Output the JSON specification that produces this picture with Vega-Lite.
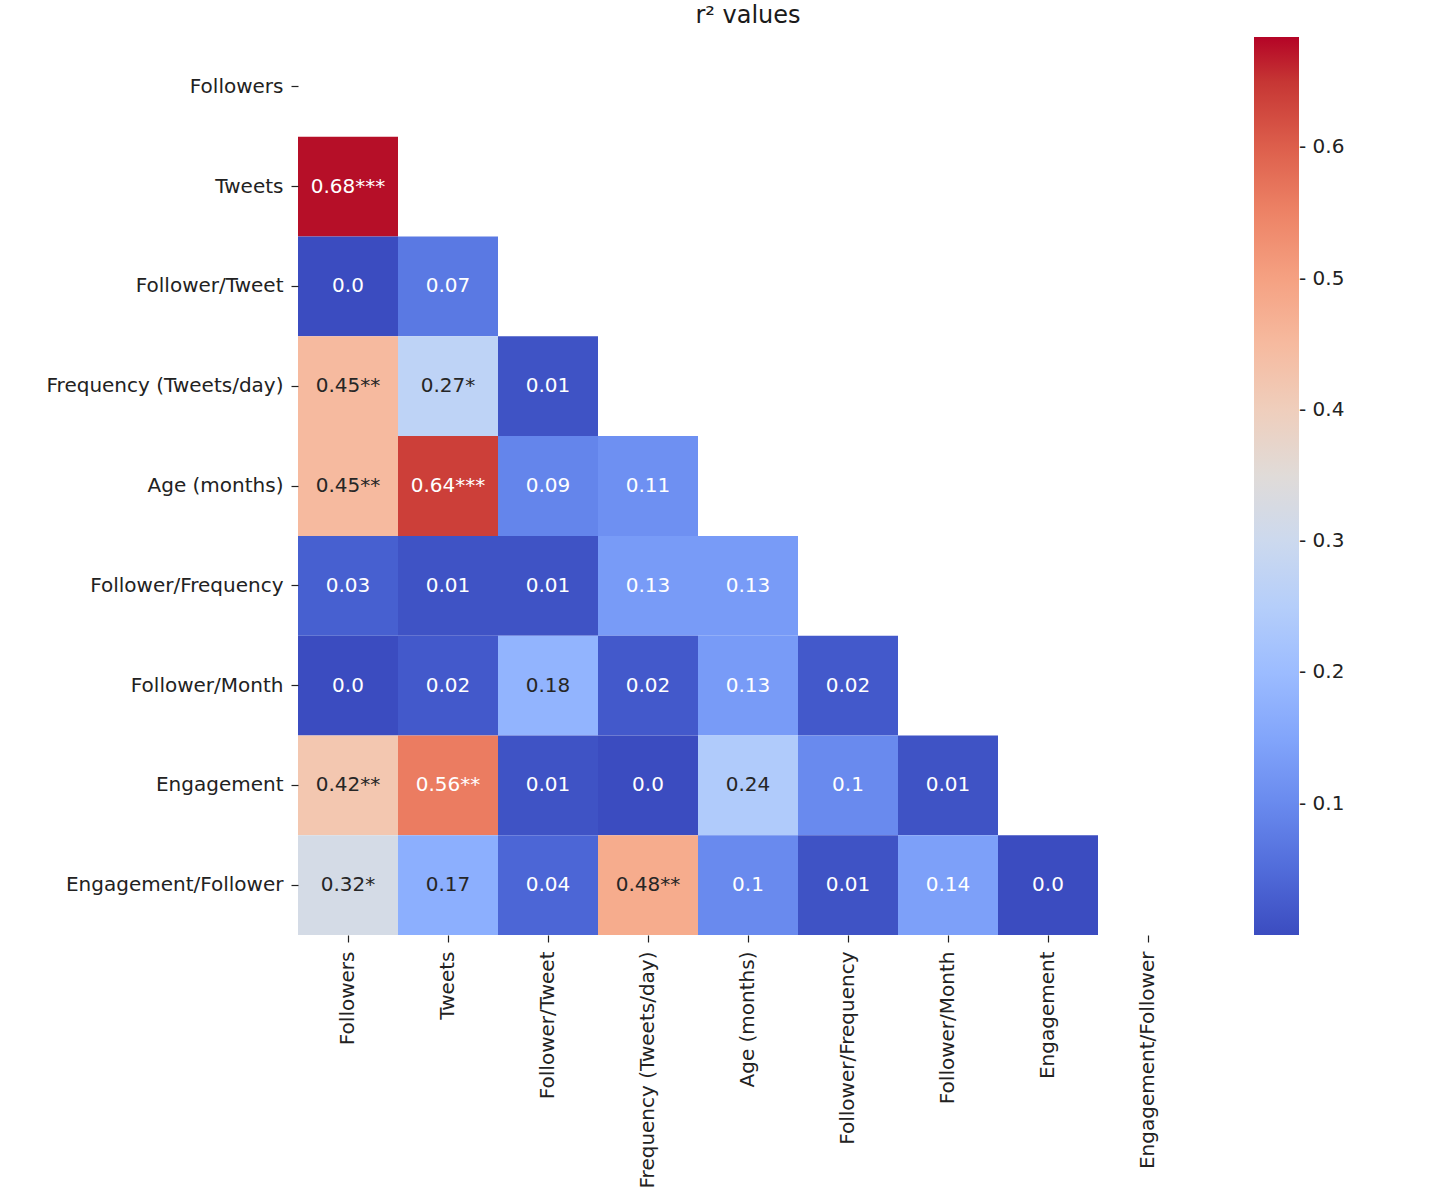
{
  "$schema": "https://vega.github.io/schema/vega-lite/v6.json",
  "autosize": {"type": "none"},
  "padding": {"left": 298, "top": 37, "right": 258, "bottom": 258},
  "width": 900,
  "height": 898,
  "title": {
    "text": "r² values",
    "font": "DejaVu Sans",
    "fontSize": 24,
    "fontWeight": "normal",
    "color": "#1a1a1a",
    "anchor": "middle",
    "offset": 9
  },
  "config": {
    "view": {"stroke": null},
    "font": "DejaVu Sans"
  },
  "data": {
    "values": [
      {"row": "Tweets", "col": "Followers", "r2": 0.68, "label": "0.68***"},
      {"row": "Follower/Tweet", "col": "Followers", "r2": 0.0, "label": "0.0"},
      {"row": "Follower/Tweet", "col": "Tweets", "r2": 0.07, "label": "0.07"},
      {"row": "Frequency (Tweets/day)", "col": "Followers", "r2": 0.45, "label": "0.45**"},
      {"row": "Frequency (Tweets/day)", "col": "Tweets", "r2": 0.27, "label": "0.27*"},
      {"row": "Frequency (Tweets/day)", "col": "Follower/Tweet", "r2": 0.01, "label": "0.01"},
      {"row": "Age (months)", "col": "Followers", "r2": 0.45, "label": "0.45**"},
      {"row": "Age (months)", "col": "Tweets", "r2": 0.64, "label": "0.64***"},
      {"row": "Age (months)", "col": "Follower/Tweet", "r2": 0.09, "label": "0.09"},
      {"row": "Age (months)", "col": "Frequency (Tweets/day)", "r2": 0.11, "label": "0.11"},
      {"row": "Follower/Frequency", "col": "Followers", "r2": 0.03, "label": "0.03"},
      {"row": "Follower/Frequency", "col": "Tweets", "r2": 0.01, "label": "0.01"},
      {"row": "Follower/Frequency", "col": "Follower/Tweet", "r2": 0.01, "label": "0.01"},
      {"row": "Follower/Frequency", "col": "Frequency (Tweets/day)", "r2": 0.13, "label": "0.13"},
      {"row": "Follower/Frequency", "col": "Age (months)", "r2": 0.13, "label": "0.13"},
      {"row": "Follower/Month", "col": "Followers", "r2": 0.0, "label": "0.0"},
      {"row": "Follower/Month", "col": "Tweets", "r2": 0.02, "label": "0.02"},
      {"row": "Follower/Month", "col": "Follower/Tweet", "r2": 0.18, "label": "0.18"},
      {"row": "Follower/Month", "col": "Frequency (Tweets/day)", "r2": 0.02, "label": "0.02"},
      {"row": "Follower/Month", "col": "Age (months)", "r2": 0.13, "label": "0.13"},
      {"row": "Follower/Month", "col": "Follower/Frequency", "r2": 0.02, "label": "0.02"},
      {"row": "Engagement", "col": "Followers", "r2": 0.42, "label": "0.42**"},
      {"row": "Engagement", "col": "Tweets", "r2": 0.56, "label": "0.56**"},
      {"row": "Engagement", "col": "Follower/Tweet", "r2": 0.01, "label": "0.01"},
      {"row": "Engagement", "col": "Frequency (Tweets/day)", "r2": 0.0, "label": "0.0"},
      {"row": "Engagement", "col": "Age (months)", "r2": 0.24, "label": "0.24"},
      {"row": "Engagement", "col": "Follower/Frequency", "r2": 0.1, "label": "0.1"},
      {"row": "Engagement", "col": "Follower/Month", "r2": 0.01, "label": "0.01"},
      {"row": "Engagement/Follower", "col": "Followers", "r2": 0.32, "label": "0.32*"},
      {"row": "Engagement/Follower", "col": "Tweets", "r2": 0.17, "label": "0.17"},
      {"row": "Engagement/Follower", "col": "Follower/Tweet", "r2": 0.04, "label": "0.04"},
      {"row": "Engagement/Follower", "col": "Frequency (Tweets/day)", "r2": 0.48, "label": "0.48**"},
      {"row": "Engagement/Follower", "col": "Age (months)", "r2": 0.1, "label": "0.1"},
      {"row": "Engagement/Follower", "col": "Follower/Frequency", "r2": 0.01, "label": "0.01"},
      {"row": "Engagement/Follower", "col": "Follower/Month", "r2": 0.14, "label": "0.14"},
      {"row": "Engagement/Follower", "col": "Engagement", "r2": 0.0, "label": "0.0"}
    ]
  },
  "encoding": {
    "x": {
      "field": "col",
      "type": "nominal",
      "title": null,
      "scale": {
        "domain": ["Followers", "Tweets", "Follower/Tweet", "Frequency (Tweets/day)", "Age (months)", "Follower/Frequency", "Follower/Month", "Engagement", "Engagement/Follower"],
        "paddingInner": 0,
        "paddingOuter": 0
      },
      "axis": {
        "orient": "bottom",
        "domain": false,
        "grid": false,
        "ticks": true,
        "tickSize": 7,
        "tickWidth": 1.2,
        "tickColor": "#222222",
        "labelAngle": -90,
        "labelAlign": "right",
        "labelBaseline": "middle",
        "labelPadding": 9,
        "labelFont": "DejaVu Sans",
        "labelFontSize": 20,
        "labelColor": "#222222",
        "labelLimit": 400
      }
    },
    "y": {
      "field": "row",
      "type": "nominal",
      "title": null,
      "scale": {
        "domain": ["Followers", "Tweets", "Follower/Tweet", "Frequency (Tweets/day)", "Age (months)", "Follower/Frequency", "Follower/Month", "Engagement", "Engagement/Follower"],
        "paddingInner": 0,
        "paddingOuter": 0
      },
      "axis": {
        "domain": false,
        "grid": false,
        "ticks": true,
        "tickSize": 7,
        "tickWidth": 1.2,
        "tickColor": "#222222",
        "labelPadding": 8,
        "labelFont": "DejaVu Sans",
        "labelFontSize": 20,
        "labelColor": "#222222",
        "labelLimit": 400
      }
    }
  },
  "layer": [
    {
      "mark": {"type": "rect", "strokeWidth": 0},
      "encoding": {
        "color": {
          "field": "r2",
          "type": "quantitative",
          "title": null,
          "scale": {
            "type": "linear",
            "clamp": true,
            "domain": [0, 0.04275, 0.0855, 0.12825, 0.171, 0.21375, 0.2565, 0.29925, 0.342, 0.38475, 0.4275, 0.47025, 0.513, 0.55575, 0.5985, 0.64125, 0.684],
            "range": ["#3b4cc0", "#4d68d7", "#6282ea", "#779af7", "#8db0fe", "#a3c2ff", "#b8d0f9", "#ccd9ee", "#dddddd", "#ecd3c5", "#f5c4ac", "#f7b193", "#f49a7b", "#ec7f63", "#de604d", "#cb3e38", "#b40426"]
          },
          "legend": {
            "orient": "none",
            "legendX": 956,
            "legendY": 0,
            "direction": "vertical",
            "gradientLength": 898,
            "gradientThickness": 45,
            "gradientStrokeWidth": 0,
            "values": [0.1, 0.2, 0.3, 0.4, 0.5, 0.6],
            "labelOverlap": false,
            "labelOffset": 0,
            "labelExpr": "'- ' + datum.label",
            "labelFont": "DejaVu Sans",
            "labelFontSize": 20,
            "labelColor": "#222222",
            "format": ".1f"
          }
        }
      }
    },
    {
      "mark": {"type": "text", "font": "DejaVu Sans", "fontSize": 20, "baseline": "middle", "align": "center"},
      "encoding": {
        "text": {"field": "label", "type": "nominal"},
        "color": {
          "condition": {"test": "datum.r2 >= 0.15 && datum.r2 <= 0.52", "value": "#262626"},
          "value": "#ffffff"
        }
      }
    }
  ]
}
